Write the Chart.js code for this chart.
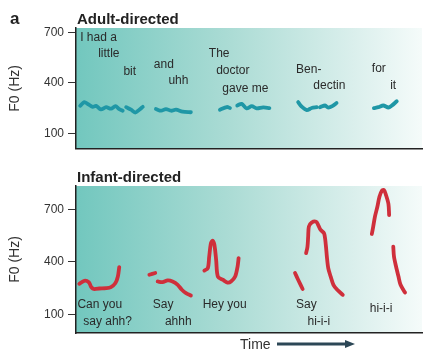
<!DOCTYPE html>
<html><head><meta charset="utf-8">
<script src="https://cdn.jsdelivr.net/npm/chart.js@4.4.0/dist/chart.umd.min.js"></script>
<style>
html,body{margin:0;padding:0;background:#fff;}
#wrap{position:relative;width:434px;height:358px;overflow:hidden;}
canvas{position:absolute;left:0;}
#c1{top:0;} #c2{top:160px;}
</style></head><body>
<div id="wrap">
<canvas id="c1" width="434" height="160"></canvas>
<canvas id="c2" width="434" height="198"></canvas>
</div>
<script>
const yTicks = [100, 400, 700];

// Adult-directed F0 contours: [time, F0 Hz]
const adultIHadALittle = [[1.2,264],[2.4,286],[3.4,275],[4.8,258],[5.8,264],[7.2,243],[8.7,256],[10.1,247],[11.4,262],[12.5,245],[13.5,235]];
const adultBit = [[14.5,256],[15.9,241],[17.1,224],[18.3,241],[19.3,258]];
const adultAndUhh = [[23.1,245],[24.6,235],[26.0,245],[27.5,235],[28.9,241],[30.8,229],[33.2,226]];
const adultThe = [[41.6,241],[43.6,257],[44.5,251]];
const adultDoctorGaveMe = [[46.6,266],[47.9,276],[49.3,249],[50.8,262],[52.2,249],[54.1,255],[55.9,251]];
const adultBen = [[64.2,286],[65.2,260],[66.7,239],[68.1,251],[69.6,256]];
const adultDectin = [[70.5,256],[72.0,266],[72.9,254],[74.2,264],[75.3,281]];
const adultForIt = [[86.1,251],[87.4,256],[88.8,266],[90.3,254],[91.2,264],[92.7,291]];

// Infant-directed F0 contours: [time, F0 Hz]
const infantCanYou = [[0.95,276],[2.4,293],[3.7,285],[4.3,261],[4.8,249]];
const infantSayAhh = [[5.3,246],[6.7,249],[8.7,251],[10.1,257],[11.4,280],[12.1,317],[12.5,371]];
const infantSay1 = [[21.2,327],[22.9,337]];
const infantAhhh = [[23.6,289],[25.0,285],[26.5,295],[27.9,289],[29.4,270],[30.6,242],[31.8,223],[33.2,209]];
const infantHeyYou = [[37.1,351],[38.1,365],[38.5,431],[39.0,507],[39.5,521],[40.0,497],[40.5,412],[41.0,317],[42.4,299],[43.8,283],[44.8,289],[46.0,317],[46.7,374],[47.0,422]];
const infantSay2 = [[63.3,337],[64.2,299],[65.5,246]];
const infantHiii1 = [[66.5,450],[66.9,487],[67.1,544],[67.3,601],[68.1,624],[69.4,629],[70.0,610],[70.7,582],[71.7,563],[72.2,497],[72.5,431],[72.9,365],[73.6,317],[74.4,270],[75.5,242],[77.1,213]];
const infantHiii2a = [[85.5,559],[85.9,601],[86.4,658],[87.1,714],[87.7,771],[88.4,805],[89.0,809],[89.6,780],[90.3,730],[90.5,667]];
const infantHiii2b = [[91.7,487],[91.9,431],[92.5,374],[93.2,317],[93.8,270],[95.1,226]];

// Word labels
const adultWords = ['I had a','little','bit','and','uhh','The','doctor','gave me','Ben-','dectin','for','it'];
const adultWordTime = [1.2,6.4,13.7,22.5,26.7,38.4,40.5,42.3,63.6,68.6,85.5,90.8];
const adultWordF0 = [671,573,469,511,411,573,472,366,478,382,482,382];
const infantWords = ['Can you','say ahh?','Say','ahhh','Hey you','Say','hi-i-i','hi-i-i'];
const infantWordTime = [0.4,2.1,22.2,25.7,36.6,63.6,66.9,84.9];
const infantWordF0 = [157,59,157,59,157,157,59,134];

const FAM = "'Liberation Sans', Arial, Helvetica, sans-serif";

const bgPlugin = {
  id: 'bg',
  beforeDraw(chart) {
    const {ctx, chartArea: a} = chart;
    const g = ctx.createLinearGradient(a.left, 0, a.right, 0);
    g.addColorStop(0, '#72c7be');
    g.addColorStop(0.45, '#acdcd5');
    g.addColorStop(0.8, '#daefec');
    g.addColorStop(1, '#f5fbfa');
    ctx.save();
    ctx.fillStyle = g;
    ctx.fillRect(a.left, a.top, a.right - a.left, a.bottom - a.top);
    ctx.restore();
  }
};

const wordsPlugin = {
  id: 'words',
  afterDatasetsDraw(chart, args, opts) {
    const {ctx, scales: {x, y}} = chart;
    ctx.save();
    ctx.font = '12px ' + FAM;
    ctx.fillStyle = '#2a2a2a';
    ctx.textAlign = 'left';
    ctx.textBaseline = 'middle';
    opts.words.forEach((w, i) => {
      ctx.fillText(w, x.getPixelForValue(opts.t[i]), y.getPixelForValue(opts.f[i]));
    });
    ctx.restore();
  }
};

const extraPlugin = {
  id: 'extra',
  afterDraw(chart, args, opts) {
    const ctx = chart.ctx;
    ctx.save();
    opts.items.forEach(it => {
      if (it.arrow) {
        ctx.strokeStyle = '#2c4756';
        ctx.fillStyle = '#2c4756';
        ctx.lineWidth = 3;
        ctx.beginPath();
        ctx.moveTo(it.x1, it.y); ctx.lineTo(it.x2 - 8, it.y); ctx.stroke();
        ctx.beginPath();
        ctx.moveTo(it.x2, it.y); ctx.lineTo(it.x2 - 10, it.y - 4); ctx.lineTo(it.x2 - 10, it.y + 4); ctx.closePath(); ctx.fill();
      } else {
        ctx.font = it.font;
        ctx.fillStyle = it.color;
        ctx.textAlign = 'left';
        ctx.textBaseline = 'alphabetic';
        ctx.fillText(it.text, it.x, it.y);
      }
    });
    ctx.restore();
  }
};

function makeChart(id, segments, color, words, wt, wf, yMin, yMax, padTop, xH, items) {
  return new Chart(document.getElementById(id), {
    type: 'line',
    data: {
      datasets: segments.map(seg => ({
        data: seg.map(p => ({x: p[0], y: p[1]})),
        borderColor: color,
        borderWidth: 3.8,
        pointRadius: 0,
        tension: 0.3,
        borderCapStyle: 'round',
        borderJoinStyle: 'round',
        fill: false
      }))
    },
    options: {
      responsive: false,
      animation: false,
      layout: {padding: {top: padTop, right: 12, left: 0, bottom: 0}},
      scales: {
        x: {
          type: 'linear', min: 0, max: 100,
          ticks: {display: false},
          grid: {display: false},
          border: {display: true, color: '#222', width: 1.5},
          afterFit(s) { s.height = xH; }
        },
        y: {
          type: 'linear', min: yMin, max: yMax,
          afterBuildTicks(s) { s.ticks = yTicks.map(v => ({value: v})); },
          ticks: {color: '#333', font: {size: 12, family: FAM}, padding: 4},
          grid: {drawOnChartArea: false, drawTicks: true, tickLength: 8, color: '#333', lineWidth: 1},
          border: {display: true, color: '#222', width: 1.5},
          title: {display: true, text: 'F0 (Hz)', color: '#333', font: {size: 14, family: FAM}, padding: {top: 7, bottom: 0}},
          afterFit(s) { s.width = 76; }
        }
      },
      plugins: {
        legend: {display: false},
        tooltip: {enabled: false},
        words: {words: words, t: wt, f: wf},
        extra: {items: items}
      }
    },
    plugins: [bgPlugin, wordsPlugin, extraPlugin]
  });
}

makeChart('c1',
  [adultIHadALittle, adultBit, adultAndUhh, adultThe, adultDoctorGaveMe, adultBen, adultDectin, adultForIt],
  '#1f97a6', adultWords, adultWordTime, adultWordF0, 9, 726, 28, 8,
  [
    {text: 'a', x: 10, y: 24, font: 'bold 17px ' + FAM, color: '#222'},
    {text: 'Adult-directed', x: 77, y: 24, font: 'bold 15px ' + FAM, color: '#222'}
  ]);

makeChart('c2',
  [infantCanYou, infantSayAhh, infantSay1, infantAhhh, infantHeyYou, infantSay2, infantHiii1, infantHiii2a, infantHiii2b],
  '#cf2f3b', infantWords, infantWordTime, infantWordF0, -4, 832, 26, 25,
  [
    {text: 'Infant-directed', x: 77, y: 22, font: 'bold 15px ' + FAM, color: '#222'},
    {text: 'Time', x: 240, y: 189, font: '14px ' + FAM, color: '#333'},
    {arrow: true, x1: 277, x2: 355, y: 184}
  ]);
</script>
</body></html>
